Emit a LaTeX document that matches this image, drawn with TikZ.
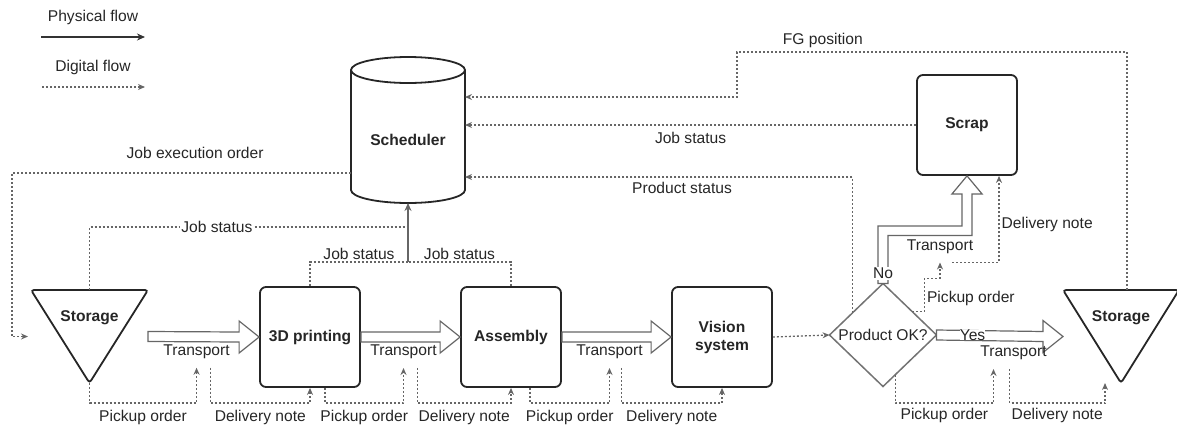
\documentclass[tikz,border=0pt]{standalone}
\usepackage{fontspec}
\setmainfont{Liberation Sans}
\usetikzlibrary{arrows.meta, calc, positioning}

\newcommand{\figfont}{\fontsize{15.6pt}{18pt}\selectfont}
% wide hollow arrow for a physical transport, from #1 to #2
\newcommand{\hollowarrow}[2]{%
  \draw[hollow] ($(#1)+(0,-5)$) -- ($(#2)+(-20,-5)$) -- ($(#2)+(-20,-16)$) -- (#2)
    -- ($(#2)+(-20,16)$) -- ($(#2)+(-20,5)$) -- ($(#1)+(0,5)$) -- cycle;}

\begin{document}
\begin{tikzpicture}[x=1pt, y=-1pt, font=\figfont, text=black!85,
  every node/.style={inner sep=2pt},
  box/.style={draw=black!85, line width=1.8pt},
  proc/.style={box, rounded corners=6pt, minimum width=100pt, minimum height=100pt,
    font=\figfont\bfseries, align=center},
  ghost/.style={inner sep=0pt, outer sep=0pt},
  bold/.style={font=\figfont\bfseries},
  trlabel/.style={inner sep=2pt, outer sep=7pt},
  hollow/.style={draw=black!60, line width=1.2pt, fill=white},
  physical/.style={draw=black!80, line width=1.3pt, -{Stealth[length=8pt, width=7pt]}},
  trunk/.style={draw=black!60, line width=1.3pt, -{Stealth[length=8pt, width=7pt]}},
  digital/.style={draw=black!60, line width=1.3pt, dash pattern=on 2pt off 2pt,
    -{Stealth[length=7pt, width=6pt]}}]

\useasboundingbox (0,0) rectangle (1177,426);

% legend
\node (lgPhys) at (93,17) {Physical flow};
\coordinate (lgP1) at (41,37);
\coordinate (lgP2) at (145,37);
\draw[physical] (lgP1) -- (lgP2);
\node (lgDig) at (93,67) {Digital flow};
\coordinate (lgD1) at (42,87);
\coordinate (lgD2) at (145,87);
\draw[digital] (lgD1) -- (lgD2);

% scheduler (cylinder)
\node[ghost, minimum width=114pt, minimum height=146pt] (sched) at (408,130) {};
\draw[box] ([yshift=-13pt]sched.north west) -- ([yshift=13pt]sched.south west)
  arc[start angle=180, end angle=360, x radius=57pt, y radius=13pt]
  -- ([yshift=-13pt]sched.north east);
\draw[box] ([yshift=-13pt]sched.north) ellipse [x radius=57pt, y radius=13pt];
\node[bold] (schedTxt) at ([yshift=-10pt]sched.center) {Scheduler};

% storages
\node[ghost, minimum width=117pt, minimum height=93pt] (stoL) at (89.5,336.5) {};
\draw[box, rounded corners=3pt] (stoL.north west) -- (stoL.north east) -- (stoL.south) -- cycle;
\node[bold] (stoLtxt) at ([yshift=19pt]stoL.center) {Storage};
\node[ghost, minimum width=116pt, minimum height=93pt] (stoR) at (1121,336.5) {};
\draw[box, rounded corners=3pt] (stoR.north west) -- (stoR.north east) -- (stoR.south) -- cycle;
\node[bold] (stoRtxt) at ([yshift=19pt]stoR.center) {Storage};

% process steps
\foreach \n/\x/\t in {p3d/310/3D printing, asm/511/Assembly, vis/722/{Vision\\system}}
  \node[proc] (\n) at (\x,337) {\t};
\node[proc] (scrap) at (967,125) {Scrap};

% quality check
\node[ghost, minimum width=107pt, minimum height=103pt] (chk) at (883,335) {Product OK?};
\draw[draw=black!55, line width=1.5pt] (chk.north) -- (chk.east) -- (chk.south) -- (chk.west) -- cycle;

% physical transports
\foreach \a/\b/\l in {stoL/p3d/tr1, p3d/asm/tr2, asm/vis/tr3}{
  \hollowarrow{\a.east}{\b.west}
  \node[trlabel] (\l) at ($(\a.east)!0.5!(\b.west)+(-7,15)$) {Transport};
}
\hollowarrow{chk.east}{stoR.west}
\node[fill=white, inner sep=0pt] (lYes) at ($(chk.east)+(36,0)$) {Yes};
\node[trlabel] (tr4) at ($(chk.east)+(77,18)$) {Transport};

\draw[hollow] ($(chk.north)+(-5,0)$) |- ($(scrap.south)+(-5,50)$) -- ($(scrap.south)+(-5,18)$)
  -- ++(-10,0) -- (scrap.south) -- ($(scrap.south)+(15,18)$) -- ++(-10,0)
  |- ($(chk.north)+(5,-48)$) -- ($(chk.north)+(5,0)$) -- cycle;
\node[fill=white, inner sep=1pt] (lNo) at ([yshift=10pt]chk.north) {No};
\node[trlabel] (trNo) at ($(chk.north)+(57,-37)$) {Transport};

% status messages to the scheduler
\coordinate (jn) at ($(sched.south)+(0,59)$);
\draw[digital, -] (stoL.north) |- node[pos=0.7, fill=white, inner sep=1pt] (lJs1) {Job status} ($(jn)+(0,-35)$);
\draw[digital, -] (p3d.north) |- node[pos=0.75, above=0pt] (lJs2) {Job status} (jn);
\draw[digital, -] (asm.north) |- node[pos=0.75, above=0pt] (lJs3) {Job status} (jn);
\draw[trunk] (jn) -- (sched.south);

\draw[digital] (scrap.west) -- node[below=5pt] (lJs4) {Job status} (sched.east |- scrap.west);

\coordinate (pst) at ($(chk.west)!0.43!(chk.north)$);
\draw[digital] (pst) |- node[pos=0.72, below=3pt] (lPst) {Product status} ([yshift=-47pt]sched.east);

\coordinate (fgbend) at (737,52);
\draw[digital] ([xshift=6pt]stoR.north) |- node[pos=0.89, above=2pt] (lFg) {FG position} (fgbend)
  |- ([yshift=33pt]sched.east);

% orders from the scheduler
\draw[digital] ([yshift=-43pt]sched.west) -| node[pos=0.23, above=12pt] (lJeo) {Job execution order}
  ([xshift=-19pt]stoL.west) -- ([xshift=-3pt]stoL.west);
\draw[digital] (vis.east) -- (chk.west);

% pickup orders and delivery notes
\coordinate (bot) at (0,403);
\coordinate (dn1) at ([xshift=14pt]tr1.south);
\coordinate (pk2) at ([xshift=15pt]p3d.south);
\coordinate (dn2) at ([xshift=14pt]tr2.south);
\coordinate (pk3) at ([xshift=19pt]asm.south);
\coordinate (dn3) at ([xshift=12pt]tr3.south);
\coordinate (pk4) at ($(chk.south)!0.23!(chk.east)$);
\coordinate (pk4e) at ([xshift=-20pt]tr4.south);
\coordinate (dn4) at ([xshift=-4pt]tr4.south);
\coordinate (dn4e) at ([xshift=-16pt]stoR.south);

\draw[digital] (stoL.south) |- node[pos=0.75, below=5pt] (lPk1) {Pickup order} (tr1.south |- bot) -- (tr1.south);
\draw[digital] (dn1) |- node[pos=0.75, below=5pt] (lDn1) {Delivery note} (p3d.south |- bot) -- (p3d.south);
\draw[digital] (pk2) |- node[pos=0.75, below=5pt] (lPk2) {Pickup order} (tr2.south |- bot) -- (tr2.south);
\draw[digital] (dn2) |- node[pos=0.75, below=5pt] (lDn2) {Delivery note} (asm.south |- bot) -- (asm.south);
\draw[digital] (pk3) |- node[pos=0.75, below=5pt] (lPk3) {Pickup order} (tr3.south |- bot) -- (tr3.south);
\draw[digital] (dn3) |- node[pos=0.75, below=5pt] (lDn3) {Delivery note} (vis.south |- bot) -- (vis.south);
\draw[digital] (pk4) |- node[pos=0.75, below=3pt] (lPk4) {Pickup order} (pk4e |- bot) -- (pk4e);
\draw[digital] (dn4) |- node[pos=0.75, below=3pt] (lDn4) {Delivery note} (dn4e |- bot) -- (dn4e);

% scrap branch
\coordinate (pkNo) at ($(chk.north)!0.55!(chk.east)$);
\draw[digital] (pkNo) -- ++(12,0) |- node[pos=0.2, right=0pt] (lPkNo) {Pickup order}
  ($(trNo.south)+(0,16)$) -- (trNo.south);
\coordinate (dnNo) at ([xshift=12pt]trNo.south);
\coordinate (dnNoE) at ([xshift=32pt]scrap.south);
\draw[digital] (dnNo) -| node[pos=0.72, right=0pt] (lDnNo) {Delivery note} (dnNoE);

\end{tikzpicture}
\end{document}
